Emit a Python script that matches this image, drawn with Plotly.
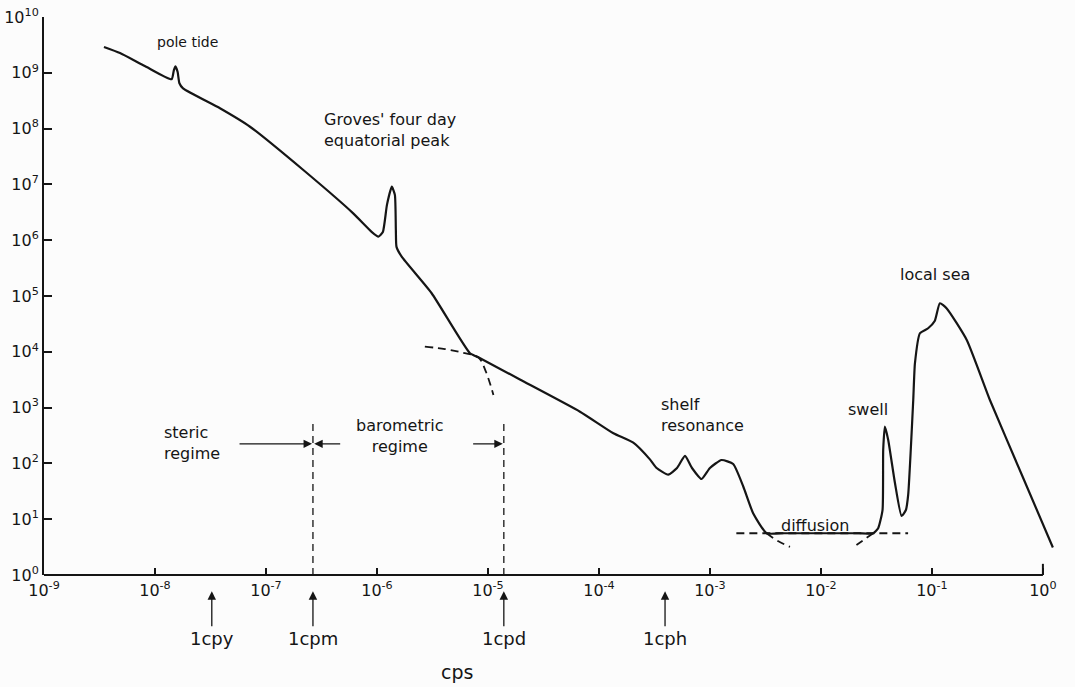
import numpy as np
import plotly.graph_objects as go

# Sea-level spectrum: frequency (cycles per second) and spectral density
freq = [3.47e-9, 4.84e-9, 8.1e-9, 1.41e-8, 1.48e-8, 1.53e-8, 1.60e-8, 1.66e-8, 1.79e-8,
        3.85e-8, 7.18e-8, 2.17e-7, 6.11e-7, 9.0e-7, 1.03e-6, 1.13e-6, 1.23e-6, 1.36e-6,
        1.45e-6, 1.48e-6, 1.50e-6, 1.67e-6, 3.11e-6, 6.89e-6, 8.18e-6, 1.94e-5, 6.75e-5,
        1.35e-4, 2.04e-4, 2.88e-4, 3.31e-4, 4.21e-4, 5.05e-4, 5.96e-4, 6.89e-4, 8.41e-4,
        1.0e-3, 1.27e-3, 1.62e-3, 2.0e-3, 2.45e-3, 3.24e-3, 4.5e-3, 8.0e-3, 1.4e-2,
        2.2e-2, 2.96e-2, 3.28e-2, 3.59e-2, 3.64e-2, 3.77e-2, 4.04e-2, 4.65e-2, 5.33e-2,
        5.83e-2, 6.11e-2, 6.79e-2, 7.03e-2, 7.80e-2, 9.25e-2, 0.106, 0.118, 0.136,
        0.206, 0.333, 0.647, 1.23]
power = [2.9e9, 2.26e9, 1.32e9, 7.65e8, 1.12e9, 1.30e9, 1.03e9, 6.5e8, 5.25e8,
         2.31e8, 1.08e8, 1.81e7, 3.03e6, 1.40e6, 1.16e6, 1.40e6, 4.3e6, 9.1e6,
         6.5e6, 1.52e6, 7.6e5, 5.06e5, 1.12e5, 9.4e3, 7.97e3, 3.19e3, 845,
         347, 235, 118, 82.7, 63.1, 82.7, 136, 82.7, 52.5,
         82.7, 115, 97.5, 38.2, 12.8, 5.6, 5.6, 5.6, 5.6,
         5.6, 5.6, 6.9, 14.6, 174, 455, 263, 44, 11.4,
         14.6, 27.2, 1370, 6.2e3, 2.15e4, 2.64e4, 3.56e4, 7.4e4, 6.0e4,
         1.63e4, 1370, 62, 3.11]

# Dashed extrapolations
tide_ext_f = [2.70e-6, 4.10e-6, 5.84e-6, 8.18e-6, 9.6e-6, 1.12e-5]
tide_ext_s = [1.24e4, 1.12e4, 9.7e3, 7.97e3, 4.35e3, 1.68e3]
diffusion_f = [1.73e-3, 6.10e-2]
diffusion_s = [5.6, 5.6]
shelf_ext_f = [3.24e-3, 4.10e-3, 5.26e-3]
shelf_ext_s = [5.6, 4.06, 3.2]
swell_ext_f = [2.96e-2, 2.09e-2]
swell_ext_s = [5.6, 3.45]

# Regime boundaries (1 cpm, 1 cpd) and their upper ends
boundary_f = [2.65e-7, 1.39e-5]
boundary_top = [600, 525]
regime_arrow_s = 224

# Reference frequencies marked under the axis
mark_labels = ["1cpy", "1cpm", "1cpd", "1cph"]
mark_f = [3.25e-8, 2.65e-7, 1.39e-5, 3.94e-4]

x_exponents = list(range(-9, 1))
y_exponents = list(range(0, 11))

INK = "#151515"
FONT = "DejaVu Sans"

fig = go.Figure()

dash_style = dict(color=INK, width=1.8, dash="8px,5px")
for fx, sy in [(tide_ext_f, tide_ext_s), (diffusion_f, diffusion_s),
               (shelf_ext_f, shelf_ext_s), (swell_ext_f, swell_ext_s)]:
    fig.add_trace(go.Scatter(x=fx, y=sy, mode="lines", line=dash_style,
                             line_shape="spline", hoverinfo="skip"))

for f, top in zip(boundary_f, boundary_top):
    fig.add_trace(go.Scatter(x=[f, f], y=[1, top], mode="lines",
                             line=dict(color=INK, width=1.3, dash="7px,5px"),
                             hoverinfo="skip"))

fig.add_trace(go.Scatter(x=freq, y=power, mode="lines",
                         line=dict(color=INK, width=2.2, shape="spline", smoothing=0.5)))

ann = []


def label(text, f, s, size, xanchor="center", align="center"):
    ann.append(dict(x=np.log10(f), y=np.log10(s), xref="x", yref="y", text=text,
                    showarrow=False, xanchor=xanchor, yanchor="middle", align=align,
                    borderpad=0,
                    font=dict(family=FONT, size=size, color=INK)))


label("pole tide", 1.98e-8, 3.56e9, 14)
label("Groves' four day<br>equatorial peak", 3.27e-7, 9.3e7, 16, "left", "left")
label("local sea", 0.106, 2.4e5, 16)
label("swell", 2.65e-2, 910, 16)
label("shelf<br>resonance", 3.55e-4, 7.5e2, 16, "left", "left")
label("diffusion", 8.8e-3, 7.6, 16)
label("steric<br>regime", 1.17e-8, 2.3e2, 16, "left", "left")
label("barometric<br>regime", 1.62e-6, 3.1e2, 16)

# Regime arrows meeting at the boundary lines
for tail_f, tip_f in [(5.6e-8, 2.60e-7), (4.81e-7, 2.72e-7), (7.13e-6, 1.36e-5)]:
    ann.append(dict(x=np.log10(tip_f), y=np.log10(regime_arrow_s),
                    ax=np.log10(tail_f), ay=np.log10(regime_arrow_s),
                    xref="x", yref="y", axref="x", ayref="y", text="",
                    showarrow=True, arrowhead=2, arrowsize=1.3, arrowwidth=1.3,
                    arrowcolor=INK))

# Frequency markers below the axis
for txt, f in zip(mark_labels, mark_f):
    ann.append(dict(x=np.log10(f), y=-0.029, xref="x", yref="paper", text=txt,
                    showarrow=True, ax=0, ay=47, arrowhead=2, arrowsize=1.3,
                    arrowwidth=1.3, arrowcolor=INK,
                    font=dict(family=FONT, size=18, color=INK)))

ann.append(dict(x=0.409, y=-0.174, xref="paper", yref="paper", text="cps",
                showarrow=False, yanchor="middle",
                font=dict(family=FONT, size=19, color=INK)))

fig.update_layout(
    width=1075, height=687, autosize=False,
    margin=dict(l=44, r=21, t=17, b=112),
    paper_bgcolor="#fcfcfc", plot_bgcolor="#fcfcfc",
    showlegend=False,
    annotations=ann,
    shapes=[
        # frequency axis line, ending at 1 cps
        dict(type="line", xref="x", yref="paper", x0=1e-9, x1=1.0, y0=0, y1=0,
             line=dict(color=INK, width=2)),
        # end bracket at 1 cps
        dict(type="line", xref="x", yref="paper", x0=1.0, x1=1.0, y0=0, y1=0.02,
             line=dict(color=INK, width=2)),
    ],
    xaxis=dict(type="log", range=[-9, 0.1], showgrid=False, zeroline=False,
               showline=False, ticks="inside", ticklen=7, tickwidth=1.5,
               tickcolor=INK, automargin=False, ticklabelstandoff=4,
               tickvals=[10.0 ** e for e in x_exponents],
               ticktext=[f"10<sup>{e}</sup>" for e in x_exponents],
               tickfont=dict(family=FONT, size=16, color=INK)),
    yaxis=dict(type="log", range=[0, 10], showgrid=False, zeroline=False,
               showline=True, linewidth=2, linecolor=INK, automargin=False,
               ticks="inside", ticklen=8, tickwidth=1.5, tickcolor=INK,
               tickvals=[10.0 ** e for e in y_exponents],
               ticktext=[f"10<sup>{e}</sup>" for e in y_exponents],
               tickfont=dict(family=FONT, size=16, color=INK)),
)

fig.write_html("out.html")
